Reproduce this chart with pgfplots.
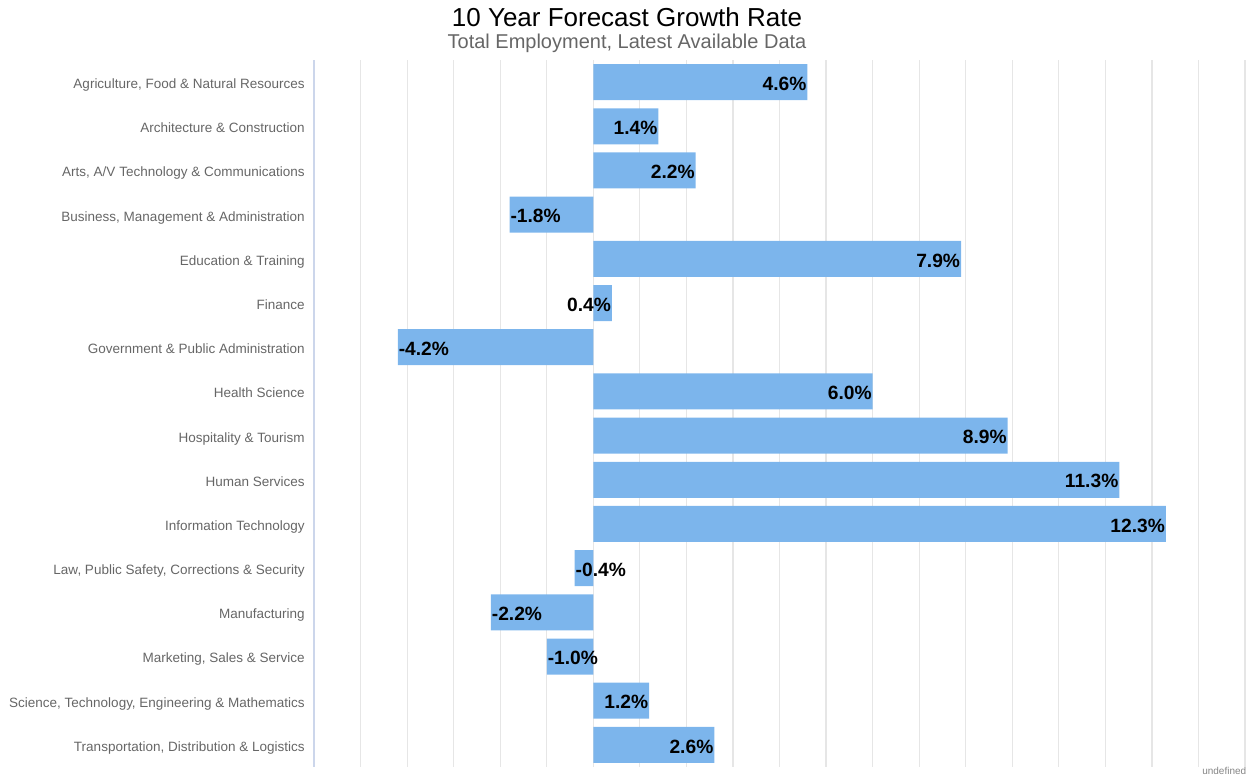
\documentclass[border=0pt]{standalone}
\usepackage{pgfplots}
\pgfplotsset{compat=1.18}
\usepackage{fontspec}
\setmainfont{Liberation Sans}
\definecolor{barblue}{HTML}{7CB5EC}
\definecolor{gridc}{HTML}{E6E6E6}
\definecolor{axisc}{HTML}{CCD6EB}
\definecolor{labc}{HTML}{666666}
\begin{document}
\begin{tikzpicture}
\path[use as bounding box] (0,0) rectangle (623.5pt,388pt);
\node[anchor=base, font=\fontsize{13pt}{15pt}\selectfont, text=black, inner sep=0pt] at (313.5pt,374.8pt) {10 Year Forecast Growth Rate};
\node[anchor=base, font=\fontsize{10pt}{12pt}\selectfont, text=labc, inner sep=0pt] at (313.5pt,363.8pt) {Total Employment, Latest Available Data};
\node[anchor=base east, font=\fontsize{5pt}{6pt}\selectfont, text=labc!80, inner sep=0pt] at (623.3pt,1pt) {undefined};
\begin{axis}[
  at={(157pt,4.5pt)}, anchor=south west,
  scale only axis, width=465.5pt, height=353.5pt,
  xbar, bar width=18pt, bar shift=0pt,
  xmin=-6, xmax=14, ymin=-0.5, ymax=15.5,
  y dir=reverse,
  xtick={-6,-5,...,14}, xticklabels={}, major tick length=0pt,
  xmajorgrids, grid style={gridc, line width=0.6pt},
  ytick={0,1,...,15},
  yticklabels={{Agriculture, Food \& Natural Resources}, Architecture \& Construction, {Arts, A/V Technology \& Communications}, {Business, Management \& Administration}, Education \& Training, Finance, Government \& Public Administration, Health Science, Hospitality \& Tourism, Human Services, Information Technology, {Law, Public Safety, Corrections \& Security}, Manufacturing, {Marketing, Sales \& Service}, {Science, Technology, Engineering \& Mathematics}, {Transportation, Distribution \& Logistics}},
  yticklabel style={font=\fontsize{6.75pt}{8pt}\selectfont, text=labc, inner sep=0pt, anchor=east, text height=1.4ex, text depth=0.3ex, xshift=-4.5pt, yshift=-0.3pt},
  axis x line*=bottom, x axis line style={draw=none},
  axis y line*=left, y axis line style={axisc, line width=0.75pt, -},
  clip=false,
  nodes near coords={\pgfmathprintnumber[fixed,zerofill,precision=1,assume math mode=true]{\pgfplotspointmeta}\%},
  every node near coord/.append style={font=\bfseries\fontsize{9.6pt}{11pt}\selectfont, text=black, inner xsep=0.3pt, yshift=-0.8pt},
  point meta=x,
]
\addplot[fill=barblue, draw=none, every node near coord/.append style={anchor=east}] coordinates {
 (4.6,0) (1.4,1) (2.2,2) (7.9,4) (0.4,5) (6.0,7) (8.9,8) (11.3,9) (12.3,10) (1.2,14) (2.6,15)};
\addplot[fill=barblue, draw=none, every node near coord/.append style={anchor=west}] coordinates {
 (-1.8,3) (-4.2,6) (-0.4,11) (-2.2,12) (-1.0,13)};
\end{axis}
\end{tikzpicture}
\end{document}
